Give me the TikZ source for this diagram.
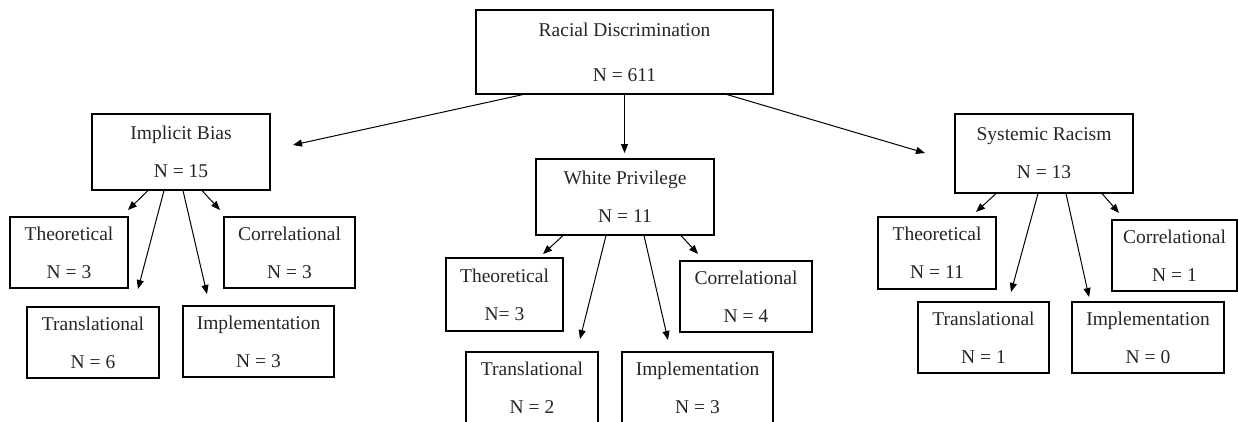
\documentclass[tikz,border=0pt]{standalone}
\usepackage{fontspec}
\setmainfont{Liberation Serif}
\usetikzlibrary{arrows.meta}
\begin{document}
\begin{tikzpicture}[x=1pt,y=-1pt,
  box/.style={draw,line width=1.1pt,rectangle,inner sep=0pt,align=center,
    font=\fontsize{19.5}{38}\selectfont,text=black!85},
  arr/.style={line width=1pt,-{Triangle[length=9pt,width=7pt]}}]
\clip (0,0) rectangle (1238,421);
\fill[white] (0,0) rectangle (1238,421);
% root
\node[box,minimum width=297,minimum height=84,font=\fontsize{19.5}{45}\selectfont] (root) at (624.5,52) {Racial Discrimination\\N = 611};
% level 1
\node[box,minimum width=178,minimum height=76] (ib) at (181,152) {Implicit Bias\\N = 15};
\node[box,minimum width=178,minimum height=76] (wp) at (625,197) {White Privilege\\N = 11};
\node[box,minimum width=178,minimum height=79] (sr) at (1044,153.5) {Systemic Racism\\N = 13};
% implicit bias children
\node[box,minimum width=118,minimum height=71] (ibt) at (69,252.5) {Theoretical\\N = 3};
\node[box,minimum width=131,minimum height=71] (ibc) at (289.5,252.5) {Correlational\\N = 3};
\node[box,minimum width=132,minimum height=71] (ibr) at (93,342.5) {Translational\\N = 6};
\node[box,minimum width=151,minimum height=71] (ibi) at (258.5,341.5) {Implementation\\N = 3};
% white privilege children
\node[box,minimum width=117,minimum height=73] (wpt) at (504.5,294.5) {Theoretical\\N= 3};
\node[box,minimum width=132,minimum height=71] (wpc) at (746,296.5) {Correlational\\N = 4};
\node[box,minimum width=132,minimum height=72] (wpr) at (532,388) {Translational\\N = 2};
\node[box,minimum width=151,minimum height=72] (wpi) at (697.5,388) {Implementation\\N = 3};
% systemic racism children
\node[box,minimum width=118,minimum height=72] (srt) at (937,253) {Theoretical\\N = 11};
\node[box,minimum width=125,minimum height=71] (src) at (1174.5,255.5) {Correlational\\N = 1};
\node[box,minimum width=131,minimum height=71] (srr) at (983.5,337.5) {Translational\\N = 1};
\node[box,minimum width=152,minimum height=71] (sri) at (1148,337.5) {Implementation\\N = 0};
% arrow tips
\coordinate (tib) at (293,145);
\coordinate (twp) at (624.5,153);
\coordinate (tsr) at (925,153);
\coordinate (tibt) at (128,210);
\coordinate (tibr) at (138,289);
\coordinate (tibi) at (207,294);
\coordinate (tibc) at (220,210);
\coordinate (twpt) at (543,254);
\coordinate (twpr) at (580,339);
\coordinate (twpi) at (668,340);
\coordinate (twpc) at (698,254);
\coordinate (tsrt) at (976,212);
\coordinate (tsrr) at (1011,292);
\coordinate (tsri) at (1089,297);
\coordinate (tsrc) at (1119,213);
% root arrows
\draw[arr] ([xshift=-101.5]root.south) -- (tib);
\draw[arr] (root.south) -- (twp);
\draw[arr] ([xshift=102.5]root.south) -- (tsr);
% implicit bias arrows
\draw[arr] ([xshift=-33]ib.south) -- (tibt);
\draw[arr] ([xshift=-17]ib.south) -- (tibr);
\draw[arr] ([xshift=2]ib.south) -- (tibi);
\draw[arr] ([xshift=21]ib.south) -- (tibc);
% white privilege arrows
\draw[arr] ([xshift=-62]wp.south) -- (twpt);
\draw[arr] ([xshift=-19]wp.south) -- (twpr);
\draw[arr] ([xshift=19]wp.south) -- (twpi);
\draw[arr] ([xshift=56]wp.south) -- (twpc);
% systemic racism arrows
\draw[arr] ([xshift=-48]sr.south) -- (tsrt);
\draw[arr] ([xshift=-6]sr.south) -- (tsrr);
\draw[arr] ([xshift=22]sr.south) -- (tsri);
\draw[arr] ([xshift=58]sr.south) -- (tsrc);
\end{tikzpicture}
\end{document}
